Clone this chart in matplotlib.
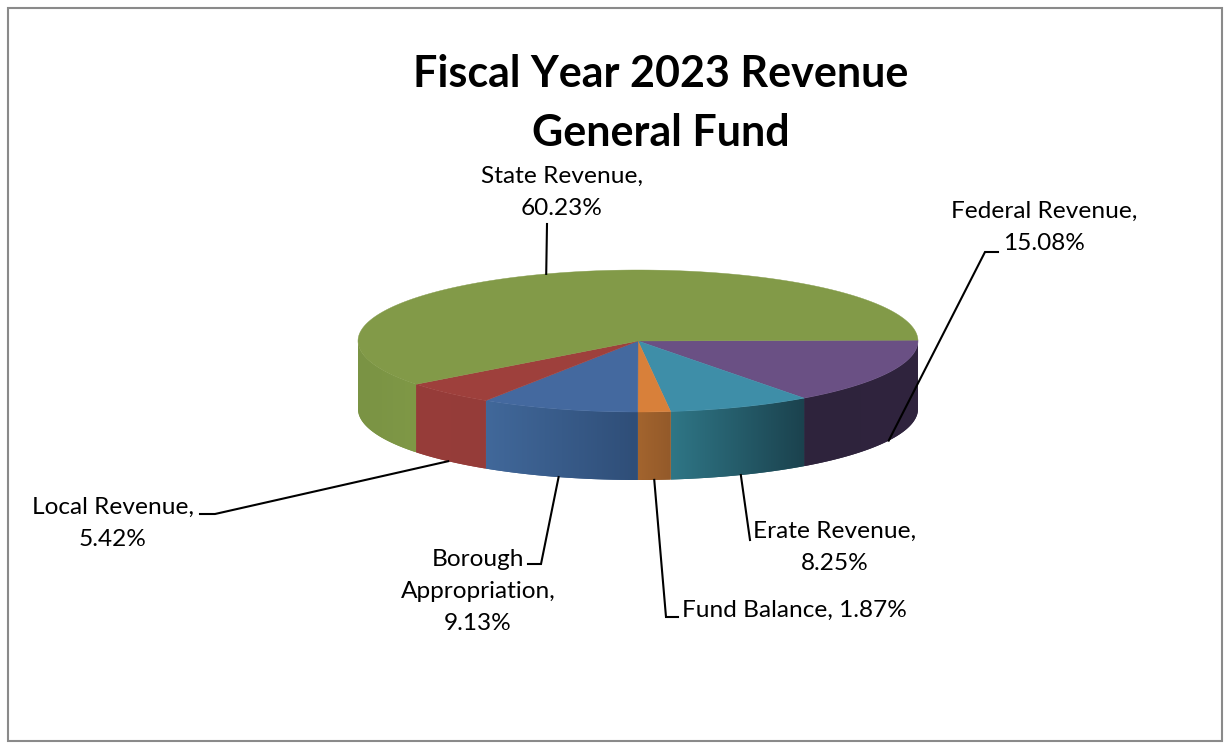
import numpy as np
import matplotlib
matplotlib.use("Agg")
import matplotlib.pyplot as plt
from matplotlib.colors import to_rgb
from matplotlib.patches import Polygon, Rectangle

plt.rcParams['font.family'] = ['Lato', 'DejaVu Sans']

# slices, clockwise from the right hand edge of the pie
categories = ["Federal Revenue", "Erate Revenue", "Fund Balance",
              "Borough Appropriation", "Local Revenue", "State Revenue"]
shares = [15.08, 8.25, 1.87, 9.13, 5.42, 60.23]

top_colors = ["#6a5084", "#3e8ea8", "#d8803a", "#44699f", "#9e403c", "#829a48"]
# side wall colour at the left and right end of each slice
side_left = ["#2e233c", "#2f7686", "#a3642e", "#41689a", "#973d3a", "#7a9344"]
side_right = ["#30243e", "#1b424e", "#935a2a", "#2f4e78", "#953c39", "#7f9846"]

# label text, text centre, leader elbow points after the slice
label_lines = [
    ["Federal Revenue,", "15.08%"],
    ["Erate Revenue,", "8.25%"],
    ["Fund Balance, 1.87%"],
    ["Borough", "Appropriation,", "9.13%"],
    ["Local Revenue,", "5.42%"],
    ["State Revenue,", "60.23%"],
]
label_x = [1044, 835, 794, 478, 113, 562]
label_y = [211, 531, 610, 559, 507, 176]
leaders = [
    [(985, 252), (998, 252)],
    [(750, 540)],
    [(666, 617), (678, 617)],
    [(541, 564), (528, 564)],
    [(215, 514), (200, 514)],
    [(547, 224)],
]

cx, cy = 638, 341
rx, ry = 280, 71
depth = 68
start_angle = -0.7
line_step = 32.5


def rim(t):
    return cx + rx * np.cos(t), cy + ry * np.sin(t)


fig = plt.figure(figsize=(12.3, 7.49), dpi=100)
ax = fig.add_axes([0, 0, 1, 1])

ax.add_patch(Rectangle((7.5, 7.5), 1214.5, 733.5, fill=False, ec="#8a8a8a", lw=1.5))

edges = np.radians(start_angle + np.concatenate([[0], np.cumsum(shares)]) * 360 / sum(shares))

# side wall first, only the part facing the viewer
for i in range(len(shares)):
    a0, a1 = max(edges[i], 0), min(edges[i + 1], np.pi)
    if a0 >= np.pi:
        continue
    ts = np.linspace(a0, a1, 120)
    x, y = rim(ts)
    outline = np.c_[np.r_[x, x[::-1]], np.r_[y, y[::-1] + depth]]
    c0 = np.array(to_rgb(side_left[i]))
    c1 = np.array(to_rgb(side_right[i]))
    ax.add_patch(Polygon(outline, fc=(c0 + c1) / 2, ec="none", zorder=1))
    # gradient runs from left to right across the slice
    grad = np.linspace(c0, c1, 64)[np.newaxis, :, :]
    im = ax.imshow(grad, extent=(x.min(), x.max(), y.max() + depth, y.min()),
                   aspect="auto", interpolation="bilinear", zorder=2)
    im.set_clip_path(Polygon(outline, transform=ax.transData))

# top face
for i in range(len(shares)):
    ts = np.linspace(edges[i], edges[i + 1], 200)
    x, y = rim(ts)
    ax.fill(np.r_[cx, x], np.r_[cy, y], color=top_colors[i], lw=0.3, zorder=3)

# leaders start from the rim at the middle of each slice
for i in range(len(shares)):
    mid = (edges[i] + edges[i + 1]) / 2
    x0, y0 = rim(mid)
    if mid < np.pi:
        y0 += depth
    pts = [(x0, y0)] + leaders[i]
    ax.plot([p[0] for p in pts], [p[1] for p in pts], color="black", lw=1.5,
            solid_joinstyle="miter", zorder=4)
    for k, line in enumerate(label_lines[i]):
        ax.text(label_x[i], label_y[i] + k * line_step, line, ha="center", va="center",
                fontsize=17.6, color="black", zorder=5)

ax.text(661, 74, "Fiscal Year 2023 Revenue", ha="center", va="center",
        fontsize=31, fontweight="bold", color="black")
ax.text(661, 133, "General Fund", ha="center", va="center",
        fontsize=31, fontweight="bold", color="black")

ax.set_xlim(0, 1230)
ax.set_ylim(749, 0)
ax.axis("off")

fig.savefig("out.png", dpi=100, facecolor="white")
